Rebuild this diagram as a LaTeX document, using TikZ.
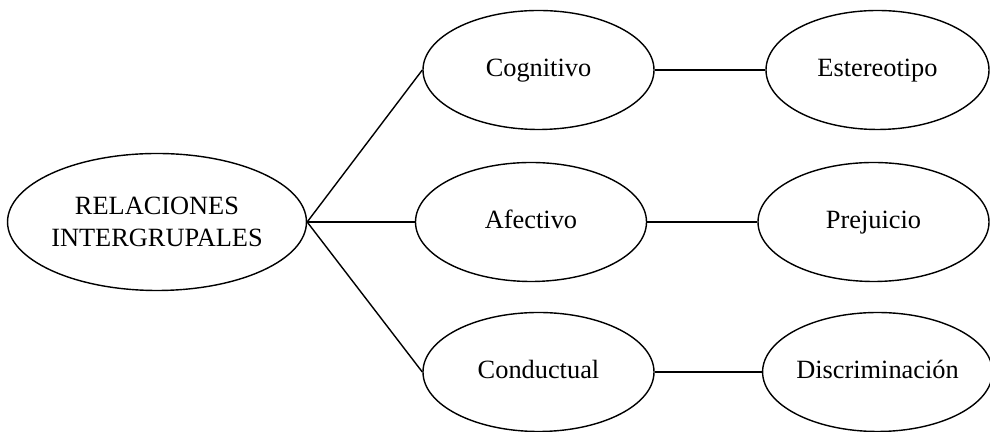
\documentclass[tikz,border=0pt]{standalone}
\usepackage{fontspec}
\setmainfont{Liberation Serif}
\usetikzlibrary{shapes.geometric}

\begin{document}
\begin{tikzpicture}[
    bubble/.style={ellipse, draw, line width=0.8pt, inner sep=0pt,
        minimum width=4.62cm, minimum height=2.38cm,
        font=\fontsize{15}{18}\selectfont, align=center},
    word/.style={bubble, text height=0.78em, text depth=0pt},
    link/.style={line width=0.8pt}]
\useasboundingbox (0,0) rectangle (19.8,8.64);

% Main concept
\node[bubble, minimum width=5.88cm, minimum height=2.74cm] (rel) at (3.14,4.20)
    {RELACIONES\\INTERGRUPALES};

% Components
\node[word] (cog) at (10.77,7.24) {Cognitivo};
\node[word] (afe) at (10.62,4.20) {Afectivo};
\node[word] (con) at (10.77,1.20) {Conductual};

% Outcomes
\node[word, minimum width=4.46cm] (est) at (17.55,7.24) {Estereotipo};
\node[word] (pre) at (17.47,4.20) {Prejuicio};
\node[word, minimum width=4.46cm] (dis) at (17.55,1.20) {Discriminación};

% Connectors
\draw[link] (rel.east) -- (cog.west);
\draw[link] (rel.east) -- (afe.west);
\draw[link] (rel.east) -- (con.west);
\draw[link] (cog.east) -- (est.west);
\draw[link] (afe.east) -- (pre.west);
\draw[link] (con.east) -- (dis.west);
\end{tikzpicture}
\end{document}
